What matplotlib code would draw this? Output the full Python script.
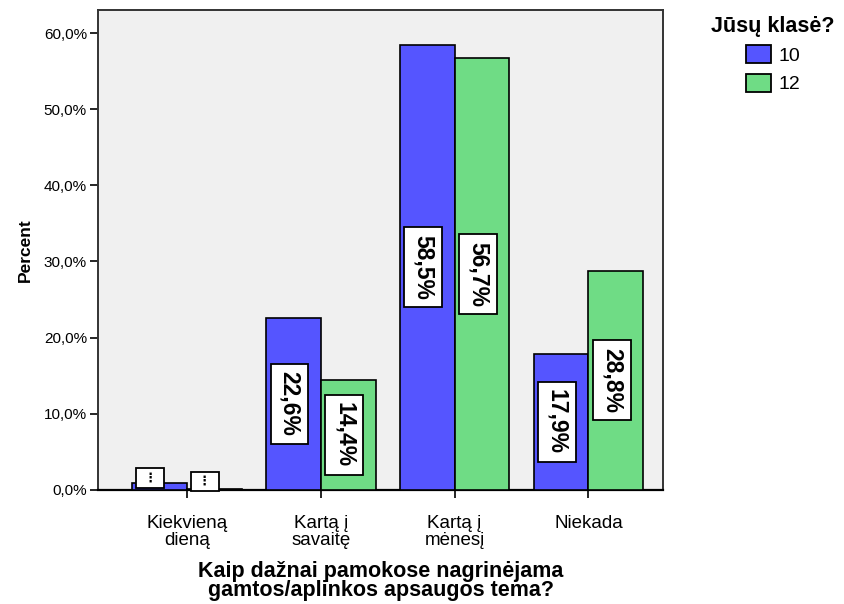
import matplotlib
matplotlib.use("Agg")
import matplotlib.pyplot as plt
import numpy as np
from matplotlib.patches import Patch

plt.rcParams['font.family'] = ['Liberation Sans', 'DejaVu Sans']

categories = ["Kiekvieną\ndieną", "Kartą į\nsavaitę", "Kartą į\nmėnesį", "Niekada"]
series_names = ["10", "12"]
values_10 = [0.9, 22.6, 58.5, 17.9]
values_12 = [0.1, 14.4, 56.7, 28.8]
labels_10 = ["⋮", "22,6%", "58,5%", "17,9%"]
labels_12 = ["⋮", "14,4%", "56,7%", "28,8%"]
yticks = [0, 10, 20, 30, 40, 50, 60]
yticklabels = ["0,0%", "10,0%", "20,0%", "30,0%", "40,0%", "50,0%", "60,0%"]

c_blue = "#5555ff"
c_green = "#6fdc85"

fig = plt.figure(figsize=(8.45, 6.04), dpi=100)
ax = fig.add_axes([0.116, 0.189, 0.669, 0.794])
ax.set_facecolor("#f0f0f0")

x = np.arange(len(categories))
w = 0.41
ax.bar(x - w/2, values_10, w, color=c_blue, edgecolor="black", linewidth=1.2, zorder=3)
ax.bar(x + w/2, values_12, w, color=c_green, edgecolor="black", linewidth=1.2, zorder=3)

box = dict(boxstyle="square,pad=0.32", facecolor="white", edgecolor="black", linewidth=1.3)
small_box = dict(boxstyle="square,pad=0.25", facecolor="white", edgecolor="black", linewidth=1.3)
for vals, labs, off in ((values_10, labels_10, -w/2), (values_12, labels_12, w/2)):
    for xi, v, lab in zip(x, vals, labs):
        if lab == "⋮":
            ax.text(xi + off - 0.07, 1.57 if off < 0 else 1.1, " " + lab + " ", ha="center", va="center",
                    fontsize=9, fontweight="bold", family=["DejaVu Sans"], bbox=small_box, zorder=5)
        else:
            ax.text(xi + off - 0.03, v / 2, lab, rotation=270, ha="center", va="center",
                    fontsize=16.5, fontweight="bold", bbox=box, zorder=5)

ax.set_xlim(-0.665, 3.56)
ax.set_ylim(0, 63)
ax.set_yticks(yticks)
ax.set_yticklabels(yticklabels, fontsize=11)
ax.set_xticks(x)
ax.set_xticklabels(categories, fontsize=13.5, linespacing=1.05)
ax.tick_params(axis="both", direction="out", length=6, width=1.2, color="black")
ax.tick_params(axis="x", pad=12)
ax.tick_params(axis="y", pad=2)
for s in ax.spines.values():
    s.set_linewidth(1.4)
    s.set_color("#333333")
ax.spines["bottom"].set_color("black")
ax.spines["bottom"].set_linewidth(1.6)

ax.set_ylabel("Percent", fontsize=12.5, fontweight="bold", labelpad=8)
ax.set_xlabel("Kaip dažnai pamokose nagrinėjama\ngamtos/aplinkos apsaugos tema?",
              fontsize=15.5, fontweight="bold", linespacing=0.88, labelpad=8)

handles = [Patch(facecolor=c_blue, edgecolor="black", linewidth=1.3, label=series_names[0]),
           Patch(facecolor=c_green, edgecolor="black", linewidth=1.3, label=series_names[1])]
leg = fig.legend(handles=handles, title="Jūsų klasė?", loc="upper center",
                 bbox_to_anchor=(773 / 845, 1.003), frameon=False, fontsize=14,
                 title_fontproperties={"weight": "bold", "size": 15.5},
                 handlelength=1.3, handleheight=1.05, handletextpad=0.4, labelspacing=0.45)

fig.savefig("out.png", dpi=100)
